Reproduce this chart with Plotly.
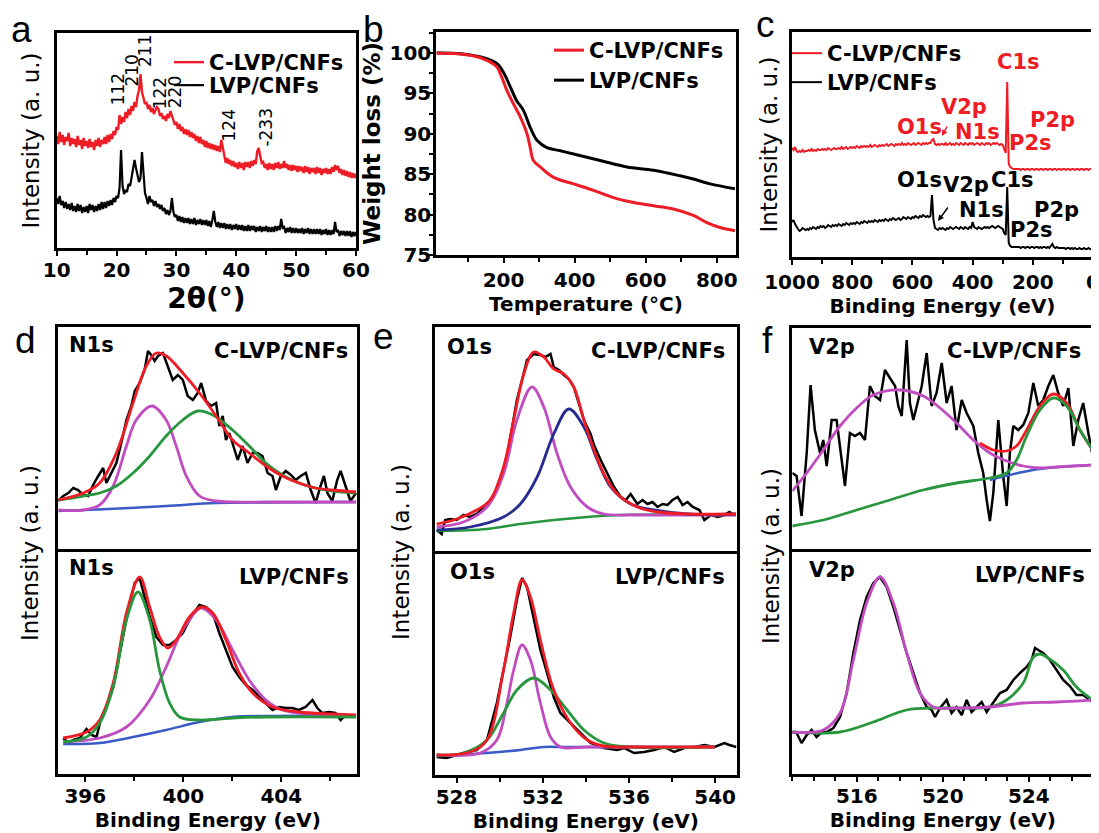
import numpy as np
import plotly.graph_objects as go

# reference canvas and page offset (the html body has an 8 px margin)
W, H = 1099, 833
OFF = 8
FW, FH = W - OFF, H - OFF

# ---------------- (a) XRD ----------------
xrd_two_theta = np.arange(10, 60.001, 0.25)
xrd_c_lvp = [
    112,104,116,106, 113,103,111,107, 115,102,110,104, 109,101,112,103, 108,99,110,102,
    107,100,109,101, 106,98,108,102, 110,101,108,104, 111,104,113,106, 114,109,117,113,
    121,118,133,124, 131,126,136,130, 139,133,142,137, 146,141,152,158, 174,156,150,144,
    146,139,143,136, 140,134,138,141, 139,132,135,129, 132,127,134,130, 137,133,128,123,
    126,119,124,117, 121,114,119,113, 118,111,116,110, 114,107,112,105, 111,104,108,101,
    107,100,105,99, 104,98,103,97, 102,96,108,100, 91,85,90,84, 88,82,87,81,
    85,79,86,80, 85,78,86,81, 86,80,87,82, 88,84,97,100, 92,85,86,80,
    84,78,85,79, 84,78,85,80, 86,79,84,80, 87,80,84,78, 83,77,83,78,
    82,76,82,77, 81,75,82,76, 81,74,80,76, 80,74,81,75, 80,73,79,75,
    80,74,79,74, 81,76,83,78, 82,75,79,73, 78,72,77,71, 76,70,75,70,
    74]
xrd_lvp = [
    50,44,52,43, 47,40,46,39, 44,38,45,37, 42,36,44,37, 43,35,41,36,
    42,35,44,38, 43,36,42,37, 44,38,46,39, 46,40,47,42, 48,43,50,46,
    52,50,60,98, 62,54,58,56, 64,62,70,78, 88,80,74,66, 70,96,75,55,
    50,44,52,46, 48,42,47,41, 44,39,43,37, 40,34,38,33, 37,50,36,31,
    33,27,32,26, 31,25,30,25, 30,24,29,24, 30,23,28,24, 29,23,28,23,
    28,22,27,21, 28,37,26,21, 26,20,25,20, 25,19,24,19, 24,18,23,19,
    24,18,23,18, 23,17,22,17, 23,17,22,18, 22,16,21,17, 22,16,21,17,
    22,16,21,16, 21,16,22,17, 22,18,29,20, 21,15,20,16, 21,15,20,15,
    20,15,19,15, 20,14,19,15, 20,14,19,14, 19,14,19,14, 19,13,18,14,
    19,13,18,13, 18,14,26,16, 18,12,17,13, 17,12,17,12, 17,11,16,12,
    16]
xrd_hkl = ["112", "210", "211", "122", "220", "124", "-233"]
xrd_hkl_pos = [20.3, 22.5, 24.75, 27.3, 29.8, 38.7, 44.9]
xrd_hkl_y = [159, 177, 197, 155, 156, 122, 121]

# ---------------- (b) TGA ----------------
tga_T_c = [12, 69, 120, 153, 181, 195, 209, 228, 247, 266, 275, 284, 303, 341, 397, 453, 509,
           566, 622, 678, 734, 772, 809, 851]
tga_w_c = [100.0, 99.9, 99.6, 99.1, 98.3, 97.0, 95.4, 93.7, 92.1, 90.0, 88.3, 86.7, 85.9, 84.6,
           83.8, 83.0, 82.1, 81.5, 81.1, 80.7, 79.9, 79.0, 78.4, 78.0]
tga_T = [12, 80, 153, 181, 200, 219, 237, 256, 275, 294, 322, 360, 397, 472, 547, 622, 697, 734,
         781, 851]
tga_w = [100.0, 99.9, 99.3, 98.7, 97.6, 95.8, 94.1, 92.9, 90.8, 89.2, 88.3, 87.9, 87.5, 86.7,
         85.9, 85.5, 84.8, 84.4, 83.8, 83.2]

# ---------------- (c) XPS survey ----------------
survey_be = np.arange(1000, -0.1, -5)
survey_c_lvp = [
    109,107,110,106,105,106,105,107,105,106,
    106,107,106,108,106,107,106,108,107,107,
    108,107,108,107,109,108,107,108,109,108,
    108,109,108,110,108,109,110,108,109,110,
    109,110,109,111,110,109,111,110,111,110,
    111,110,112,110,111,112,111,110,112,111,
    112,111,112,113,111,112,113,112,111,113,
    112,113,112,114,112,113,112,114,113,112,
    113,114,112,113,114,113,112,114,113,114,
    113,114,114,117,118,113,112,113,112,113,
    113,112,114,112,113,114,112,113,112,114,
    113,112,114,113,112,114,113,112,114,113,
    114,112,113,114,113,112,114,113,112,114,
    113,114,112,113,114,113,114,113,112,113,
    112,108,104,175,93,90,89,88,88,88,
    88,88,87,88,88,87,88,88,87,88,
    88,87,88,88,87,88,88,87,88,88,
    87,88,88,87,88,88,87,88,88,87,
    88,88,87,88,88,87,88,88,87,88,
    88,87,88,88,87,88,88,87,88,88,
    88]
survey_lvp = [
    35,37,33,30,28,26,27,29,28,27,
    28,27,29,28,30,29,28,30,29,31,
    30,31,29,30,32,31,30,32,31,32,
    31,33,32,31,33,32,34,33,32,34,
    33,34,33,35,34,33,35,34,36,35,
    34,36,35,36,35,37,36,35,37,36,
    37,36,38,37,36,38,37,39,38,37,
    38,39,37,38,40,39,38,40,39,38,
    40,39,41,40,39,41,40,42,41,40,
    41,40,41,62,37,29,28,27,29,28,
    29,28,27,29,28,30,29,28,29,30,
    29,28,30,29,28,30,29,28,30,29,
    35,30,29,28,30,29,28,29,30,29,
    30,29,30,31,30,29,30,31,30,29,
    28,24,22,70,14,11,10,10,10,10,
    10,10,9,10,10,9,10,10,9,10,
    10,9,10,10,9,10,9,10,10,9,
    10,9,11,13,10,9,10,9,9,9,
    9,9,8,9,9,8,9,8,9,8,
    8,9,8,8,9,8,8,9,8,8,
    8]
survey_labels = ["C1s", "V2p", "O1s", "N1s", "P2p", "P2s"]
survey_lab_be_c = [246, 429, 575, 385, 133, 206]
survey_lab_y_c = [195, 150, 130, 125, 137, 114]
survey_lab_be = [269, 422, 575, 372, 120, 203]
survey_lab_y = [77, 72, 77, 47, 47, 27]

# ---------------- (d) N1s ----------------
n1s_c_be = [394.90,395.10,395.31,395.51,395.71,395.92,396.12,396.32,396.53,396.73,396.86,397.07,
            397.27,397.47,397.68,397.88,398.02,398.22,398.42,398.56,398.69,398.83,398.97,399.17,
            399.37,399.57,399.78,399.98,400.18,400.39,400.59,400.73,400.93,401.13,401.34,401.47,
            401.61,401.74,401.88,402.01,402.22,402.42,402.62,402.83,403.03,403.23,403.44,403.64,
            403.78,403.98,404.18,404.39,404.59,404.79,405.00,405.20,405.40,405.60,405.74,405.88,
            406.08,406.28,406.42,406.62,406.82,407.05]
n1s_c_raw = [48,53,56,61,59,54,53,64,73,81,66,76,86,106,129,143,158,166,179,198,194,188,193,196,
             183,169,174,169,153,149,156,166,148,143,146,123,133,109,116,106,89,103,86,96,96,93,
             76,73,59,73,78,74,69,73,76,59,46,63,73,56,48,69,78,63,48,56]
n1s_c_fit_be = [394.9,395.92,396.59,397.27,397.95,398.49,398.9,399.31,399.98,400.66,401.34,402.01,
                402.69,403.37,404.04,404.72,405.4,406.08,407.05]
n1s_c_fit = [49,56,66,96,146,183,196,193,176,156,133,109,96,83,73,66,61,59,57]
n1s_c_p1_be = [394.9,395.92,396.59,397.14,397.68,398.08,398.73,399.3,399.71,400.12,400.66,401.34,
               402.01,403.37,407.05]
n1s_c_p1 = [39,39,44,63,103,129,143,129,103,73,53,48,47,47,47]
n1s_c_p2_be = [394.9,395.92,396.59,397.27,397.95,398.63,399.3,399.98,400.59,401.2,402.01,402.69,
               403.37,404.04,404.72,405.4,406.08,407.05]
n1s_c_p2 = [49,53,56,63,76,93,113,129,138,134,119,103,86,74,66,61,58,56]
n1s_c_bg_be = [394.9,396.5,399.3,401.34,403.5,407.05]
n1s_c_bg = [38,39.5,43,46,46.5,47]

n1s_be = [395.10,395.31,395.51,395.78,396.05,396.26,396.46,396.66,396.86,397.14,397.41,397.61,
          397.81,398.02,398.22,398.42,398.63,398.90,399.17,399.44,399.71,399.98,400.25,400.52,
          400.66,400.93,401.20,401.47,401.74,402.01,402.28,402.56,402.83,403.10,403.37,403.64,
          403.91,404.18,404.45,404.72,404.99,405.27,405.47,405.67,405.94,406.21,406.42,406.62,
          406.89]
n1s_raw = [36,31,34,36,45,39,37,57,67,87,121,147,171,191,196,177,157,137,129,129,134,141,154,164,
           169,167,161,141,124,107,97,89,84,77,71,64,67,66,66,64,67,74,66,61,62,61,54,59,57]
n1s_fit_be = [395.1,396.05,396.59,397.14,397.68,398.22,398.63,399.03,399.37,399.71,400.25,400.73,
              401.2,401.74,402.28,402.83,403.64,404.72,406.08,407.05]
n1s_fit = [36,42,54,91,161,197,167,137,126,134,157,167,161,134,101,81,67,62,60,59]
n1s_p1_be = [395.1,396.05,396.59,397.14,397.68,398.15,398.63,399.03,399.44,399.85,400.66,402.01,
             403.37,407.05]
n1s_p1 = [32,37,51,87,154,182,154,104,71,57,54,56,57,57]
n1s_p2_be = [395.1,396.59,397.68,398.63,399.3,399.98,400.73,401.34,402.01,402.69,403.37,404.04,
             404.72,406.08,407.05]
n1s_p2 = [32,36,47,74,107,144,166,154,124,94,74,64,61,59,58]
n1s_bg_be = [395.1,396.59,397.95,399.3,400.66,402.01,403.37,407.05]
n1s_bg = [30,31,37,44,52,57,58,58]

# ---------------- (e) O1s ----------------
o1s_c_be = [527.08,527.31,527.47,527.70,528.01,528.32,528.63,528.94,529.25,529.56,529.87,530.18,
            530.42,530.65,530.80,531.04,531.27,531.58,531.89,532.12,532.36,532.51,532.75,532.98,
            533.21,533.44,533.68,533.91,534.22,534.38,534.69,535.00,535.31,535.62,535.85,536.08,
            536.39,536.63,536.86,537.09,537.33,537.56,537.79,538.02,538.26,538.49,538.72,538.96,
            539.27,539.50,539.81,540.12,540.43,540.66,540.90]
o1s_c_raw = [21,17,31,32,31,36,34,37,44,51,61,81,104,131,151,171,191,197,196,194,197,184,181,176,
             172,164,147,131,117,106,91,77,64,54,51,57,47,51,47,49,44,47,46,51,54,46,49,44,41,31,
             36,34,36,39,36]
o1s_c_fit_be = [527.08,528.01,528.94,529.56,530.18,530.65,531.12,531.58,532.05,532.51,532.98,
                533.44,533.91,534.38,534.84,535.46,536.39,537.33,538.72,540.97]
o1s_c_fit = [27,32,41,51,84,131,177,199,194,182,177,164,131,101,77,57,44,39,37,37]
o1s_c_p1_be = [527.08,528.32,529.41,530.18,530.8,531.5,532.05,532.67,533.29,534.07,534.84,536.39,
               540.97]
o1s_c_p1 = [24,29,44,77,131,164,144,97,64,44,37,36,36]
o1s_c_p2_be = [527.08,528.63,530.18,530.96,531.74,532.51,533.21,533.91,534.53,535.15,536.08,
               537.17,538.72,540.97]
o1s_c_p2 = [21,24,34,47,74,117,142,124,91,64,47,41,37,37]
o1s_c_bg_be = [527.08,529.41,530.96,532.51,534.07,535.62,540.97]
o1s_c_bg = [20,22,27,31,34,36,36]

o1s_be = [527.08,527.54,528.01,528.48,528.94,529.41,529.87,530.18,530.49,530.80,531.04,531.27,
          531.58,531.89,532.20,532.51,532.82,533.13,533.44,533.75,534.22,534.84,535.46,535.77,
          536.24,536.70,537.17,537.63,538.10,538.57,539.04,539.50,539.97,540.43,540.66,540.98]
o1s_raw = [18,17,20,23,25,35,72,105,138,175,197,188,155,125,102,78,62,55,48,42,32,27,25,27,22,23,
           25,28,23,27,28,30,28,32,30,28]
o1s_fit_be = [527.08,528.63,529.41,530.18,530.65,531.04,531.43,531.89,532.51,533.29,534.07,534.84,
              536.39,539.97]
o1s_fit = [20,23,35,105,162,195,178,135,85,52,35,29,28,28]
o1s_p1_be = [527.08,529.1,529.87,530.34,530.65,531.04,531.43,531.89,532.36,532.82,534.07,539.97]
o1s_p1 = [20,22,35,72,105,130,115,72,38,28,28,28]
o1s_p2_be = [527.08,528.32,529.41,530.18,530.8,531.58,532.36,533.13,533.91,534.84,536.08,539.97]
o1s_p2 = [20,22,35,62,85,97,85,65,45,32,28,28]
o1s_bg_be = [527.08,529.41,530.96,532.05,532.98,539.97]
o1s_bg = [19,22,25,28,28,28]

# ---------------- (f) V2p ----------------
v2p_c_be = [513.00,513.20,513.43,513.67,513.85,514.05,514.29,514.44,514.60,514.83,515.06,515.22,
            515.45,515.68,515.91,516.15,516.38,516.61,516.84,517.08,517.31,517.54,517.78,517.93,
            518.09,518.32,518.47,518.63,518.78,519.02,519.25,519.48,519.71,519.95,520.18,520.41,
            520.64,520.88,521.11,521.42,521.65,521.88,522.04,522.19,522.35,522.58,522.81,522.97,
            523.12,523.28,523.51,523.74,523.98,524.21,524.44,524.67,524.91,525.14,525.37,525.60,
            525.84,526.07,526.30,526.53,526.77,526.97]
v2p_c_raw = [76,73,33,96,164,119,96,109,83,129,129,103,63,116,113,116,109,163,153,149,179,171,163,
             143,133,209,146,129,143,163,196,143,156,186,146,163,119,149,136,123,96,76,49,28,56,
             129,73,43,96,123,119,124,136,166,143,149,163,174,156,143,161,103,129,146,116,93]
v2p_c_p1_be = [513,513.67,514.44,515.22,515.99,516.77,518.01,519.09,519.87,520.64,521.42,522.19,
               522.97,523.74,524.52,525.29,526.07,526.97]
v2p_c_p1 = [58,76,99,123,141,154,159,153,141,126,109,96,88,83,81,82,83,84]
v2p_c_p2_be = [513,514.44,515.99,517.54,519.09,520.64,522.19,522.97,523.43,523.9,524.52,525.14,
               525.76,526.38,526.97]
v2p_c_p2 = [23,29,39,49,59,66,71,76,89,113,139,151,143,119,99]
v2p_c_fit_be = [521.73,522.35,522.97,523.43,523.9,524.52,525.14,525.76,526.38,526.97]
v2p_c_fit = [106,99,98,103,119,143,155,146,119,99]
v2p_c_bg_be = [522.19,523.5,524.5,526.97]
v2p_c_bg = [69,76,80,84]

v2p_be = [513.00,513.20,513.43,513.67,513.90,514.13,514.36,514.60,514.91,515.22,515.53,515.84,
          516.15,516.46,516.77,517.08,517.39,517.70,518.01,518.32,518.63,518.94,519.25,519.48,
          519.64,519.87,520.18,520.41,520.64,520.88,521.11,521.34,521.57,521.81,522.04,522.35,
          522.66,522.97,523.28,523.59,523.90,524.13,524.29,524.44,524.67,524.98,525.29,525.60,
          525.91,526.22,526.53,526.97]
v2p_raw = [42,41,31,39,44,37,42,42,46,57,81,121,154,177,191,197,187,167,144,121,101,81,67,64,57,
           66,74,61,67,59,74,62,67,72,62,71,81,84,94,101,107,114,126,124,121,114,104,94,88,79,79,72]
v2p_p1_be = [513,514.44,515.22,515.84,516.46,517.08,517.7,518.32,518.94,519.56,520.64,522.19,
             523.74,525.29,526.97]
v2p_p1 = [42,44,61,114,171,197,171,121,81,67,66,67,71,72,74]
v2p_p2_be = [513,515.22,516.77,518.32,519.87,522.19,522.97,523.74,524.21,524.52,524.83,525.6,
             526.22,526.97]
v2p_p2 = [42,42,52,64,66,67,74,91,117,120,117,104,87,74]

# ---------------- styling ----------------
RED = "#EE1C25"
MAGENTA = "#C04CC0"
GREEN = "#28963C"
BLUE = "#3A5BC7"
NAVY = "#262B8F"
FONT = "DejaVu Sans"
TICKFONT = dict(family=FONT, size=20, color="black", weight="bold")
LABFONT = dict(family=FONT, size=21, color="black", weight="bold")


def dx(x0, x1):
    return [(x0 - OFF) / FW, (x1 - OFF) / FW]


def dy(y0, y1):
    return [1 - (y1 - OFF) / FH, 1 - (y0 - OFF) / FH]


def px(x):
    return (x - OFF) / FW


def py(y):
    return 1 - (y - OFF) / FH


def frame(**kw):
    d = dict(showline=True, linecolor="black", linewidth=2.5, mirror=True, showgrid=False,
             zeroline=False, ticks="", showticklabels=False, automargin=False)
    d.update(kw)
    return d


def xticked(rng, tick0, dtick, mdtick, title, tsize=20, standoff=6, **kw):
    d = dict(range=rng, ticks="outside", ticklen=5, tickwidth=2, tickcolor="black",
             showticklabels=True, tick0=tick0, dtick=dtick, tickfont=TICKFONT,
             ticklabeloverflow="allow",
             minor=dict(tick0=tick0, dtick=mdtick, ticks="outside", ticklen=4, tickwidth=2,
                        tickcolor="black"),
             title=dict(text=title, font=dict(family=FONT, size=tsize, color="black",
                                              weight="bold"), standoff=standoff))
    d.update(kw)
    return frame(**d)


fig = go.Figure()


def line(x, y, color, ax, width=2.5, spline=False, name=None, legend=None):
    tr = go.Scatter(x=x, y=y, mode="lines", xaxis="x" + ax, yaxis="y" + ax,
                    line=dict(color=color, width=width, shape="spline" if spline else "linear"),
                    hoverinfo="skip", showlegend=name is not None, name=name)
    if legend:
        tr.legend = legend
    fig.add_trace(tr)


# (a)
line(xrd_two_theta, xrd_c_lvp, RED, "", 2.4, name="C-LVP/CNFs", legend="legend")
line(xrd_two_theta, xrd_lvp, "black", "", 2.2, name="LVP/CNFs", legend="legend4")
# (b)
line(tga_T, tga_w, "black", "2", 3, spline=True, name="LVP/CNFs", legend="legend5")
line(tga_T_c, tga_w_c, RED, "2", 3, spline=True, name="C-LVP/CNFs", legend="legend2")
# (c)
line(survey_be, survey_c_lvp, RED, "3", 2, name="C-LVP/CNFs", legend="legend3")
line(survey_be, survey_lvp, "black", "3", 2, name="LVP/CNFs", legend="legend6")
# (d)
line(n1s_c_be, n1s_c_raw, "black", "4", 2.5)
line(n1s_c_bg_be, n1s_c_bg, BLUE, "4", 2.5, spline=True)
line(n1s_c_p1_be, n1s_c_p1, MAGENTA, "4", 2.8, spline=True)
line(n1s_c_p2_be, n1s_c_p2, GREEN, "4", 2.8, spline=True)
line(n1s_c_fit_be, n1s_c_fit, RED, "4", 2.8, spline=True)
line(n1s_be, n1s_raw, "black", "5", 2.5)
line(n1s_bg_be, n1s_bg, BLUE, "5", 2.5, spline=True)
line(n1s_p2_be, n1s_p2, MAGENTA, "5", 2.8, spline=True)
line(n1s_fit_be, n1s_fit, RED, "5", 2.8, spline=True)
line(n1s_p1_be, n1s_p1, GREEN, "5", 2.8, spline=True)
# (e)
line(o1s_c_be, o1s_c_raw, "black", "6", 2.5)
line(o1s_c_bg_be, o1s_c_bg, GREEN, "6", 2.5, spline=True)
line(o1s_c_p1_be, o1s_c_p1, MAGENTA, "6", 2.8, spline=True)
line(o1s_c_p2_be, o1s_c_p2, NAVY, "6", 2.8, spline=True)
line(o1s_c_fit_be, o1s_c_fit, RED, "6", 2.8, spline=True)
line(o1s_be, o1s_raw, "black", "7", 2.5)
line(o1s_bg_be, o1s_bg, BLUE, "7", 2.5, spline=True)
line(o1s_p1_be, o1s_p1, MAGENTA, "7", 2.8, spline=True)
line(o1s_p2_be, o1s_p2, GREEN, "7", 2.8, spline=True)
line(o1s_fit_be, o1s_fit, RED, "7", 2.8, spline=True)
# (f)
line(v2p_c_be, v2p_c_raw, "black", "8", 2.5)
line(v2p_c_bg_be, v2p_c_bg, BLUE, "8", 2.5, spline=True)
line(v2p_c_p1_be, v2p_c_p1, MAGENTA, "8", 2.8, spline=True)
line(v2p_c_fit_be, v2p_c_fit, RED, "8", 2.8, spline=True)
line(v2p_c_p2_be, v2p_c_p2, GREEN, "8", 2.8, spline=True)
line(v2p_be, v2p_raw, "black", "9", 2.5)
line(v2p_p2_be, v2p_p2, GREEN, "9", 2.8, spline=True)
line(v2p_p1_be, v2p_p1, MAGENTA, "9", 2.8, spline=True)

ytitle_int = dict(text="Intensity (a. u.)", font=dict(family=FONT, size=23, color="black"),
                  standoff=8)


def leg(x_text, y_row):
    # one-entry legend: text starts at x_text, row centred on y_row (reference pixels)
    return dict(x=px(x_text - 41), y=py(y_row - 20), xanchor="left", yanchor="top",
                font=LABFONT, bgcolor="rgba(0,0,0,0)", itemwidth=30)


layout = dict(
    width=FW, height=FH, margin=dict(l=0, r=0, t=0, b=0),
    paper_bgcolor="white", plot_bgcolor="white",
    font=dict(family=FONT, color="black"),
    # (a)
    xaxis=xticked([10, 60], 10, 10, 5, "2θ(°)", tsize=28, standoff=0, ticklabelstandoff=-3,
                  domain=dx(56.7, 356), anchor="y"),
    yaxis=frame(range=[0, 215], domain=dy(33, 248), anchor="x", title=ytitle_int),
    # (b)
    xaxis2=xticked([10, 854], 0, 200, 100, "Temperature (°C)", standoff=5,
                   domain=dx(436, 736), anchor="y2"),
    yaxis2=frame(range=[75, 102.6], domain=dy(32, 255), anchor="x2", ticks="outside",
                 ticklen=5, tickwidth=2, tickcolor="black", showticklabels=True, tick0=75,
                 dtick=5, tickfont=TICKFONT, ticklabelstandoff=-7,
                 minor=dict(dtick=2.5, ticks="outside", ticklen=4, tickwidth=2,
                            tickcolor="black"),
                 title=dict(text="Weight loss (%)",
                            font=dict(family=FONT, size=23, color="black", weight="bold"),
                            standoff=3)),
    # (c)
    xaxis3=xticked([1000, 0], 0, 200, 100, "Binding Energy (eV)", standoff=5,
                   domain=dx(792, 1093), anchor="y3"),
    yaxis3=frame(range=[0, 225], domain=dy(32, 257), anchor="x3",
                 title=dict(ytitle_int, standoff=6)),
    # (d)
    xaxis4=frame(range=[394.9, 407.1], domain=dx(58.3, 357.3), anchor="y4"),
    yaxis4=frame(range=[0, 222], domain=dy(327, 549), anchor="x4"),
    xaxis5=xticked([394.9, 407.1], 396, 4, 2, "Binding Energy (eV)", standoff=5,
                   ticklabelstandoff=-3, mirror=False,
                   domain=dx(58.3, 357.3), anchor="y5"),
    yaxis5=frame(range=[0, 225], domain=dy(549, 774), anchor="x5"),
    # (e)
    xaxis6=frame(range=[527, 541], domain=dx(435, 736.7), anchor="y6"),
    yaxis6=frame(range=[0, 224], domain=dy(327, 551), anchor="x6"),
    xaxis7=xticked([527, 541], 528, 4, 2, "Binding Energy (eV)", standoff=5,
                   ticklabelstandoff=-3, mirror=False,
                   domain=dx(435, 736.7), anchor="y7"),
    yaxis7=frame(range=[0, 224], domain=dy(551, 775), anchor="x7"),
    # (f)
    xaxis8=frame(range=[513, 527], domain=dx(792.3, 1093.3), anchor="y8"),
    yaxis8=frame(range=[0, 221], domain=dy(328, 549), anchor="x8"),
    xaxis9=xticked([513, 527], 516, 4, 1, "Binding Energy (eV)", standoff=5,
                   ticklabelstandoff=-3, mirror=False,
                   domain=dx(792.3, 1093.3), anchor="y9"),
    yaxis9=frame(range=[0, 225], domain=dy(549, 774), anchor="x9"),
    legend=leg(210, 62), legend4=leg(210, 85),
    legend2=leg(590, 50), legend5=leg(590, 80),
    legend3=leg(828, 53), legend6=leg(828, 82),
)
fig.update_layout(**layout)

ann = []
# panel letters
for letter, (lx, ly) in zip("abcdef", [(21, 29), (373, 30), (765, 24), (25, 341), (383, 336),
                                       (767, 341)]):
    ann.append(dict(text=letter, x=px(lx), y=py(ly), xref="paper", yref="paper",
                    showarrow=False, xanchor="center", yanchor="middle",
                    font=dict(family="Liberation Sans", size=37, color="black")))
# (a) hkl labels
for t, xv, yv in zip(xrd_hkl, xrd_hkl_pos, xrd_hkl_y):
    ann.append(dict(text=t, x=xv, y=yv, xref="x", yref="y", showarrow=False, textangle=-90,
                    xanchor="center", yanchor="middle",
                    font=dict(family=FONT, size=17, color="black")))
# (c) element labels
for t, xv, yv in zip(survey_labels, survey_lab_be_c, survey_lab_y_c):
    ann.append(dict(text=t, x=xv, y=yv, xref="x3", yref="y3", showarrow=False,
                    font=dict(LABFONT, color=RED)))
for t, xv, yv in zip(survey_labels, survey_lab_be, survey_lab_y):
    ann.append(dict(text=t, x=xv, y=yv, xref="x3", yref="y3", showarrow=False, font=LABFONT))
ann.append(dict(text="", x=502, y=121, xref="x3", yref="y3", showarrow=True, ax=6, ay=-11,
                arrowhead=2, arrowsize=0.8, arrowwidth=1.5, arrowcolor=RED))
ann.append(dict(text="", x=515, y=36, xref="x3", yref="y3", showarrow=True, ax=11, ay=-15,
                arrowhead=2, arrowsize=0.8, arrowwidth=1.5, arrowcolor="black"))
# (d)(e)(f) labels
corner = [
    ("N1s", 67, 345, "left"), ("C-LVP/CNFs", 350, 351, "right"),
    ("N1s", 67, 568, "left"), ("LVP/CNFs", 351, 577, "right"),
    ("O1s", 445, 347, "left"), ("C-LVP/CNFs", 727, 351, "right"),
    ("O1s", 448, 572, "left"), ("LVP/CNFs", 727, 577, "right"),
    ("V2p", 807, 347, "left"), ("C-LVP/CNFs", 1083, 351, "right"),
    ("V2p", 807, 570, "left"), ("LVP/CNFs", 1087, 575, "right"),
]
for t, xx, yy, anc in corner:
    ann.append(dict(text=t, x=px(xx), y=py(yy), xref="paper", yref="paper", showarrow=False,
                    xanchor=anc, yanchor="middle", font=LABFONT))
for xx, yy in [(30, 553), (401, 552), (771, 556)]:
    ann.append(dict(text="Intensity (a. u.)", x=px(xx), y=py(yy), xref="paper", yref="paper",
                    showarrow=False, textangle=-90, xanchor="center", yanchor="middle",
                    font=dict(family=FONT, size=23, color="black")))
fig.update_layout(annotations=ann)

fig.write_html("out.html")
